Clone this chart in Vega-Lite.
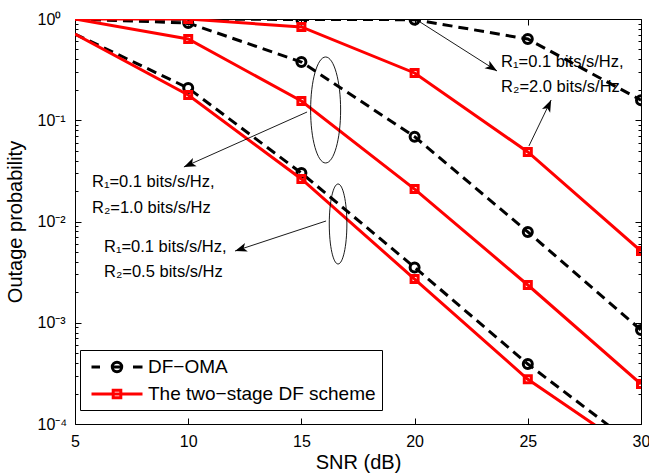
{
  "$schema": "https://vega.github.io/schema/vega-lite/v6.json",
  "autosize": {"type": "none"},
  "width": 566,
  "height": 405,
  "padding": {"left": 75, "top": 19, "right": 8, "bottom": 49},
  "background": "white",
  "datasets": {
    "curves": [
      {"snr": 5, "p": 0.711, "scheme": "DF−OMA", "rate": "0.5"},
      {"snr": 10, "p": 0.208, "scheme": "DF−OMA", "rate": "0.5"},
      {"snr": 15, "p": 0.0301, "scheme": "DF−OMA", "rate": "0.5"},
      {"snr": 20, "p": 0.00352, "scheme": "DF−OMA", "rate": "0.5"},
      {"snr": 25, "p": 0.000391, "scheme": "DF−OMA", "rate": "0.5"},
      {"snr": 30, "p": 0.0000553, "scheme": "DF−OMA", "rate": "0.5"},
      {"snr": 5, "p": 1.0, "scheme": "DF−OMA", "rate": "1.0"},
      {"snr": 10, "p": 0.913, "scheme": "DF−OMA", "rate": "1.0"},
      {"snr": 15, "p": 0.376, "scheme": "DF−OMA", "rate": "1.0"},
      {"snr": 20, "p": 0.0688, "scheme": "DF−OMA", "rate": "1.0"},
      {"snr": 25, "p": 0.00788, "scheme": "DF−OMA", "rate": "1.0"},
      {"snr": 30, "p": 0.000848, "scheme": "DF−OMA", "rate": "1.0"},
      {"snr": 5, "p": 1.0, "scheme": "DF−OMA", "rate": "2.0"},
      {"snr": 10, "p": 0.995, "scheme": "DF−OMA", "rate": "2.0"},
      {"snr": 15, "p": 0.99, "scheme": "DF−OMA", "rate": "2.0"},
      {"snr": 20, "p": 0.985, "scheme": "DF−OMA", "rate": "2.0"},
      {"snr": 25, "p": 0.634, "scheme": "DF−OMA", "rate": "2.0"},
      {"snr": 30, "p": 0.158, "scheme": "DF−OMA", "rate": "2.0"},
      {"snr": 5, "p": 0.711, "scheme": "The two−stage DF scheme", "rate": "0.5"},
      {"snr": 10, "p": 0.1776, "scheme": "The two−stage DF scheme", "rate": "0.5"},
      {"snr": 15, "p": 0.0263, "scheme": "The two−stage DF scheme", "rate": "0.5"},
      {"snr": 20, "p": 0.0027, "scheme": "The two−stage DF scheme", "rate": "0.5"},
      {"snr": 25, "p": 0.000276, "scheme": "The two−stage DF scheme", "rate": "0.5"},
      {"snr": 30, "p": 0.0000478, "scheme": "The two−stage DF scheme", "rate": "0.5"},
      {"snr": 5, "p": 1.0, "scheme": "The two−stage DF scheme", "rate": "1.0"},
      {"snr": 10, "p": 0.634, "scheme": "The two−stage DF scheme", "rate": "1.0"},
      {"snr": 15, "p": 0.155, "scheme": "The two−stage DF scheme", "rate": "1.0"},
      {"snr": 20, "p": 0.0209, "scheme": "The two−stage DF scheme", "rate": "1.0"},
      {"snr": 25, "p": 0.00236, "scheme": "The two−stage DF scheme", "rate": "1.0"},
      {"snr": 30, "p": 0.000248, "scheme": "The two−stage DF scheme", "rate": "1.0"},
      {"snr": 5, "p": 1.0, "scheme": "The two−stage DF scheme", "rate": "2.0"},
      {"snr": 10, "p": 0.998, "scheme": "The two−stage DF scheme", "rate": "2.0"},
      {"snr": 15, "p": 0.834, "scheme": "The two−stage DF scheme", "rate": "2.0"},
      {"snr": 20, "p": 0.293, "scheme": "The two−stage DF scheme", "rate": "2.0"},
      {"snr": 25, "p": 0.0486, "scheme": "The two−stage DF scheme", "rate": "2.0"},
      {"snr": 30, "p": 0.00511, "scheme": "The two−stage DF scheme", "rate": "2.0"}
    ],
    "arrows": [
      {"id": "a1", "sx": 15.25, "sy": 0.1206, "tx": 9.81, "ty": 0.03454},
      {"id": "a2", "sx": 16.09, "sy": 0.01012, "tx": 12.07, "ty": 0.00511},
      {"id": "a3", "sx": 20.24, "sy": 0.934, "tx": 23.64, "ty": 0.3065},
      {"id": "a4", "sx": 25.05, "sy": 0.0557, "tx": 26.03, "ty": 0.1585}
    ],
    "ellipses": [
      {"id": "e1", "snr": 16.07, "p": 0.1263},
      {"id": "e2", "snr": 16.62, "p": 0.00945}
    ],
    "labels": [
      {"text": "R₁=0.1 bits/s/Hz,", "snr": 5.75, "p": 0.02455},
      {"text": "R₂=1.0 bits/s/Hz", "snr": 5.75, "p": 0.01359},
      {"text": "R₁=0.1 bits/s/Hz,", "snr": 6.28, "p": 0.0056},
      {"text": "R₂=0.5 bits/s/Hz", "snr": 6.28, "p": 0.00317},
      {"text": "R₁=0.1 bits/s/Hz,", "snr": 23.82, "p": 0.376},
      {"text": "R₂=2.0 bits/s/Hz", "snr": 23.82, "p": 0.213}
    ]
  },
  "resolve": {"axis": {"x": "independent", "y": "independent"}},
  "layer": [
    {
      "data": {"name": "curves"},
      "transform": [{"filter": "datum.scheme == 'DF−OMA'"}],
      "mark": {"type": "line", "color": "black", "strokeWidth": 3, "strokeDash": [10, 6], "clip": true},
      "encoding": {
        "x": {"field": "snr", "type": "quantitative", "scale": {"domain": [5, 30], "nice": false, "zero": false},
          "axis": {"orient": "bottom", "values": [5, 10, 15, 20, 25, 30], "tickSize": -6, "labelPadding": 28, "labelBaseline": "alphabetic", "title": "SNR (dB)", "titleY": 44, "titleBaseline": "alphabetic", "format": "d"}},
        "y": {"field": "p", "type": "quantitative", "scale": {"type": "log", "domain": [0.0001, 1], "nice": false},
          "axis": {"orient": "left", "values": [0.0001, 0.001, 0.01, 0.1, 1], "tickSize": -6, "labelPadding": 44, "labelAlign": "left", "labelBaseline": "middle",
            "labelExpr": "datum.value > 0.5 ? '10⁰' : datum.value > 0.05 ? '10⁻¹' : datum.value > 0.005 ? '10⁻²' : datum.value > 0.0005 ? '10⁻³' : '10⁻⁴'",
            "title": "Outage probability", "titleX": -54, "titleY": 202.5, "titleBaseline": "alphabetic", "titleAlign": "center", "titleAngle": -90}},
        "detail": {"field": "rate"}
      }
    },
    {
      "data": {"name": "curves"},
      "transform": [{"filter": "datum.scheme == 'DF−OMA' && datum.snr >= 10"}],
      "mark": {"type": "point", "shape": "circle", "filled": false, "color": "black", "strokeWidth": 3, "size": 81, "opacity": 1, "clip": true},
      "encoding": {
        "x": {"field": "snr", "type": "quantitative", "scale": {"domain": [5, 30], "nice": false, "zero": false},
          "axis": {"orient": "top", "values": [5, 10, 15, 20, 25, 30], "tickSize": -6, "labels": false, "title": null}},
        "y": {"field": "p", "type": "quantitative", "scale": {"type": "log", "domain": [0.0001, 1], "nice": false},
          "axis": {"orient": "right", "values": [0.0001, 0.001, 0.01, 0.1, 1], "tickSize": -6, "labels": false, "title": null}}
      }
    },
    {
      "data": {"name": "curves"},
      "transform": [{"filter": "datum.scheme != 'DF−OMA'"}],
      "mark": {"type": "line", "color": "#ff0000", "strokeWidth": 3, "clip": true},
      "encoding": {
        "x": {"field": "snr", "type": "quantitative", "scale": {"domain": [5, 30], "nice": false, "zero": false}, "axis": null},
        "y": {"field": "p", "type": "quantitative", "scale": {"type": "log", "domain": [0.0001, 1], "nice": false},
          "axis": {"orient": "left", "values": [0.0002, 0.0003, 0.0004, 0.0005, 0.0006, 0.0007, 0.0008, 0.0009, 0.002, 0.003, 0.004, 0.005, 0.006, 0.007, 0.008, 0.009, 0.02, 0.03, 0.04, 0.05, 0.06, 0.07, 0.08, 0.09, 0.2, 0.3, 0.4, 0.5, 0.6, 0.7, 0.8, 0.9], "tickSize": -3, "labels": false, "domain": false, "title": null}},
        "detail": {"field": "rate"}
      }
    },
    {
      "data": {"name": "curves"},
      "transform": [{"filter": "datum.scheme != 'DF−OMA' && datum.snr >= 10"}],
      "mark": {"type": "point", "shape": "square", "filled": false, "color": "#ff0000", "strokeWidth": 3, "size": 49, "opacity": 1, "clip": true},
      "encoding": {
        "x": {"field": "snr", "type": "quantitative", "scale": {"domain": [5, 30], "nice": false, "zero": false}, "axis": null},
        "y": {"field": "p", "type": "quantitative", "scale": {"type": "log", "domain": [0.0001, 1], "nice": false},
          "axis": {"orient": "right", "values": [0.0002, 0.0003, 0.0004, 0.0005, 0.0006, 0.0007, 0.0008, 0.0009, 0.002, 0.003, 0.004, 0.005, 0.006, 0.007, 0.008, 0.009, 0.02, 0.03, 0.04, 0.05, 0.06, 0.07, 0.08, 0.09, 0.2, 0.3, 0.4, 0.5, 0.6, 0.7, 0.8, 0.9], "tickSize": -3, "labels": false, "domain": false, "title": null}}
      }
    },
    {
      "data": {"name": "curves"},
      "mark": {"type": "point", "filled": false, "opacity": 0, "size": 400, "strokeWidth": 3},
      "encoding": {
        "x": {"field": "snr", "type": "quantitative", "scale": {"domain": [5, 30], "nice": false, "zero": false}, "axis": null},
        "y": {"field": "p", "type": "quantitative", "scale": {"type": "log", "domain": [0.0001, 1], "nice": false}, "axis": null},
        "color": {"field": "scheme", "type": "nominal",
          "scale": {"domain": ["DF−OMA", "The two−stage DF scheme"], "range": ["#000000", "#ff0000"]},
          "legend": {"title": null, "orient": "none", "legendX": 5, "legendY": 331}},
        "shape": {"field": "scheme", "type": "nominal",
          "scale": {"domain": ["DF−OMA", "The two−stage DF scheme"], "range": [
            "M-2.55,0L-1.7,0M-0.5,0L0.5,0M1.6,0L2.55,0M-0.47,0A0.47,0.47,0,1,0,0.47,0A0.47,0.47,0,1,0,-0.47,0Z",
            "M-2.55,0L2.55,0M-0.38,-0.38L0.38,-0.38L0.38,0.38L-0.38,0.38Z"]},
          "legend": {"title": null, "orient": "none", "legendX": 5, "legendY": 331}}
      }
    },
    {
      "data": {"name": "ellipses"},
      "transform": [{"filter": "datum.id == 'e1'"}],
      "mark": {"type": "point", "shape": "M0,-1A0.283,1,0,1,1,0,1A0.283,1,0,1,1,0,-1Z", "size": 11236, "filled": false, "color": "black", "strokeWidth": 0.9, "opacity": 1},
      "encoding": {
        "x": {"field": "snr", "type": "quantitative", "axis": null},
        "y": {"field": "p", "type": "quantitative", "scale": {"type": "log", "domain": [0.0001, 1], "nice": false}, "axis": null}
      }
    },
    {
      "data": {"name": "ellipses"},
      "transform": [{"filter": "datum.id == 'e2'"}],
      "mark": {"type": "point", "shape": "M0,-1A0.22,1,0,1,1,0,1A0.22,1,0,1,1,0,-1Z", "size": 6400, "filled": false, "color": "black", "strokeWidth": 0.9, "opacity": 1},
      "encoding": {
        "x": {"field": "snr", "type": "quantitative", "axis": null},
        "y": {"field": "p", "type": "quantitative", "scale": {"type": "log", "domain": [0.0001, 1], "nice": false}, "axis": null}
      }
    },
    {
      "data": {"name": "arrows"},
      "mark": {"type": "rule", "color": "black", "strokeWidth": 0.9},
      "encoding": {
        "x": {"field": "sx", "type": "quantitative", "axis": null},
        "y": {"field": "sy", "type": "quantitative", "scale": {"type": "log", "domain": [0.0001, 1], "nice": false}, "axis": null},
        "x2": {"field": "tx"},
        "y2": {"field": "ty"}
      }
    },
    {
      "data": {"name": "arrows"},
      "transform": [{"filter": "datum.id == 'a1'"}],
      "mark": {"type": "point", "shape": "M0,0L0.5,1.33L0,1.0L-0.5,1.33Z", "size": 324, "filled": true, "color": "black", "strokeWidth": 0, "opacity": 1, "angle": 245.7},
      "encoding": {
        "x": {"field": "tx", "type": "quantitative", "axis": null},
        "y": {"field": "ty", "type": "quantitative", "scale": {"type": "log", "domain": [0.0001, 1], "nice": false}, "axis": null}
      }
    },
    {
      "data": {"name": "arrows"},
      "transform": [{"filter": "datum.id == 'a2'"}],
      "mark": {"type": "point", "shape": "M0,0L0.5,1.33L0,1.0L-0.5,1.33Z", "size": 324, "filled": true, "color": "black", "strokeWidth": 0, "opacity": 1, "angle": 251.7},
      "encoding": {
        "x": {"field": "tx", "type": "quantitative", "axis": null},
        "y": {"field": "ty", "type": "quantitative", "scale": {"type": "log", "domain": [0.0001, 1], "nice": false}, "axis": null}
      }
    },
    {
      "data": {"name": "arrows"},
      "transform": [{"filter": "datum.id == 'a3'"}],
      "mark": {"type": "point", "shape": "M0,0L0.5,1.33L0,1.0L-0.5,1.33Z", "size": 324, "filled": true, "color": "black", "strokeWidth": 0, "opacity": 1, "angle": 122.5},
      "encoding": {
        "x": {"field": "tx", "type": "quantitative", "axis": null},
        "y": {"field": "ty", "type": "quantitative", "scale": {"type": "log", "domain": [0.0001, 1], "nice": false}, "axis": null}
      }
    },
    {
      "data": {"name": "arrows"},
      "transform": [{"filter": "datum.id == 'a4'"}],
      "mark": {"type": "point", "shape": "M0,0L0.5,1.33L0,1.0L-0.5,1.33Z", "size": 324, "filled": true, "color": "black", "strokeWidth": 0, "opacity": 1, "angle": 24.9},
      "encoding": {
        "x": {"field": "tx", "type": "quantitative", "axis": null},
        "y": {"field": "ty", "type": "quantitative", "scale": {"type": "log", "domain": [0.0001, 1], "nice": false}, "axis": null}
      }
    },
    {
      "data": {"name": "labels"},
      "mark": {"type": "text", "align": "left", "baseline": "middle", "fontSize": 16.5, "font": "Liberation Sans", "color": "black"},
      "encoding": {
        "x": {"field": "snr", "type": "quantitative", "axis": null},
        "y": {"field": "p", "type": "quantitative", "scale": {"type": "log", "domain": [0.0001, 1], "nice": false}, "axis": null},
        "text": {"field": "text"}
      }
    }
  ],
  "config": {
    "font": "Liberation Sans",
    "view": {"stroke": null},
    "axis": {
      "grid": false, "domainColor": "black", "domainWidth": 1, "tickColor": "black", "tickWidth": 1,
      "labelColor": "black", "titleColor": "black", "labelFont": "Liberation Sans", "titleFont": "Liberation Sans",
      "titleFontWeight": "normal", "labelFontSize": 16, "titleFontSize": 20,
      "labelFlush": false, "labelOverlap": false, "labelBound": false
    },
    "legend": {
      "labelFont": "Liberation Sans", "labelFontSize": 19, "labelColor": "black", "labelLimit": 400,
      "strokeColor": "black", "fillColor": "white", "padding": 5.5, "cornerRadius": 0,
      "symbolStrokeWidth": 3, "symbolSize": 400, "symbolOpacity": 1, "symbolOffset": 20, "labelOffset": 19.5, "rowPadding": 4
    }
  }
}
